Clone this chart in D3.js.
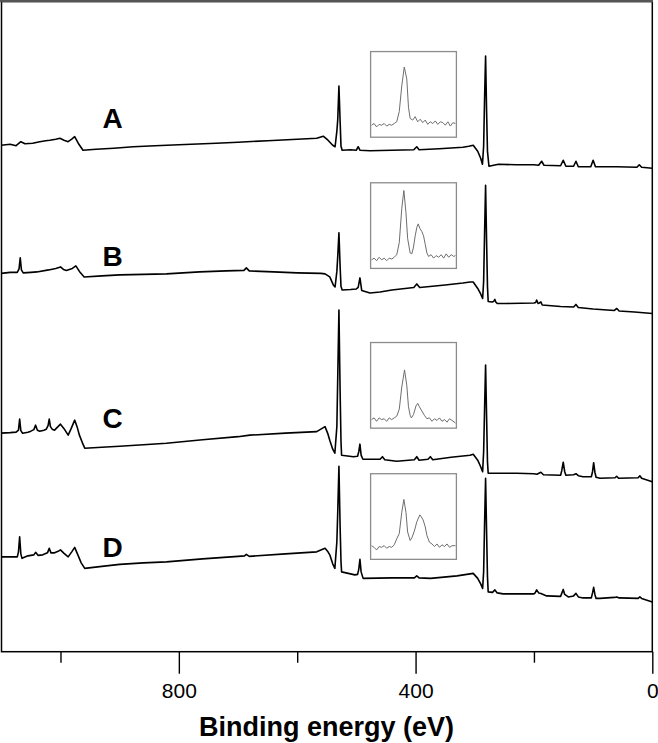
<!DOCTYPE html>
<html>
<head>
<meta charset="utf-8">
<script src="https://cdn.jsdelivr.net/npm/d3@7"></script>
<style>
  body { margin: 0; background: #fff; }
  text { font-family: "Liberation Sans", Arial, sans-serif; }
</style>
</head>
<body>
<div id="chart"></div>
<script>
// XPS survey spectra, [binding energy (eV), intensity (a.u., stacked)]
const spectrumA = [
  [1100,101.2],[1085,101.4],[1075,101.1],[1067,101.9],[1060,101.5],[1047,101.6],[1035,101.9],[1025,102.1],
  [1018,102.2],[1008,102.4],[1001,102.6],[994,102.2],[987,101.9],[981,102.4],[976,102.9],[970,101.6],
  [962,100.2],[940,100.4],[910,100.6],[877,100.9],[840,101.1],[800,101.3],[737,101.6],[700,101.8],
  [650,102.1],[600,102.4],[567,102.6],[556,103.0],[548,102.2],[540,101.2],[536,100.9],[533,104],
  [531.5,106.3],[529.5,113.0],[527.5,106],[526,101],[524,100.2],[510,100.3],[500,100.2],[497,100.9],
  [494,100.2],[477,100.1],[440,100.2],[403,100.3],[398,100.9],[394,100.3],[360,100.5],[320,100.8],
  [310,101.0],[302.6,101.2],[295,100],[290,98.6],[287,97.4],[285,101],[283.5,110],[281.7,119.0],
  [280,108],[278.5,100],[276,97.0],[260,97.4],[230,97.3],[200,97.3],[192,97.2],[187,98.0],[183,97.2],
  [155,97.1],[150.5,98.2],[146,97.0],[133,97.0],[129,98.0],[125,96.9],[104,96.9],[100,98.2],[96,96.9],
  [60,96.9],[26,96.8],[22,97.3],[18,96.8],[0,96.6]
];
const spectrumB = [
  [1100,75.6],[1085,75.8],[1073,75.8],[1070,76.5],[1068,78.7],[1066,76.3],[1063,75.7],[1050,75.8],
  [1040,75.9],[1020,76.3],[1008,76.6],[1000,76.9],[995,76.4],[990,76.2],[980,76.6],[974,77.1],
  [968,76.0],[960,74.9],[930,75.1],[900,75.3],[860,75.4],[821,75.5],[765,75.9],[720,76.1],[690,76.2],
  [686,76.7],[681,76.1],[640,75.9],[600,75.7],[560,75.6],[553,75.5],[545,74.9],[539,73.3],[536,72.9],
  [533,76],[531.5,79],[529.5,83.7],[527.5,77],[526,73],[524,72.3],[510,72.4],[500,72.5],[497,72.8],
  [494,74.7],[491,72.2],[477,71.7],[460,71.9],[440,72.3],[403,72.8],[398,73.5],[393,72.8],[350,73.3],
  [320,73.7],[308,73.9],[302.6,73.9],[295,72.6],[290,71.5],[286.7,70.6],[285,74],[283.5,83],
  [281.7,93.2],[280,82],[278.5,73],[277.3,70.0],[271,69.9],[268,70.0],[266,70.4],[264,69.8],[262,69.6],
  [246,69.6],[200,69.7],[197,69.8],[195.4,70.3],[193,69.6],[191,69.7],[188.2,69.9],[186,69.3],
  [155,69.0],[133,68.9],[129,69.4],[125,68.8],[100,68.5],[64,68.2],[60,68.6],[56,68.1],[30,67.9],[0,67.6]
];
const spectrumC = [
  [1100,43.7],[1085,43.8],[1075,43.9],[1071,44.3],[1069,46.5],[1067,44.2],[1064,43.7],[1055,43.9],
  [1050,44.1],[1045,44.4],[1042,45.3],[1039,44.3],[1035,44.1],[1028,44.3],[1024,44.5],[1021,45.2],
  [1019,46.5],[1017,45.0],[1014,44.5],[1010,44.3],[1005,44.9],[1000,45.5],[994,44.6],[987,43.3],
  [982,44.6],[976,46.3],[972,45.0],[968,43.3],[962,41.5],[959,40.7],[930,40.9],[900,41.1],[860,41.4],
  [821,41.7],[760,42.4],[700,43.0],[680,43.3],[620,43.7],[567,44.0],[553,45.0],[548,43.5],[545,42.3],
  [540,40.5],[536.4,39.7],[533,45],[531.5,55],[529.5,68.3],[527.5,52],[526,42],[525,39.3],[505,39.0],
  [498,39.1],[496,40],[494,41.5],[492,39.3],[489,38.5],[460,38.5],[456,39.0],[452,38.4],[432,38.1],
  [402,38.4],[398,39.0],[394,38.3],[379,38.5],[375,39.0],[371,38.4],[340,38.9],[308,39.3],[302.6,39.5],
  [295,38.3],[290,37.0],[286.7,36.0],[285,40],[283.5,48],[281.7,57.3],[280,47],[278.5,38],[277.3,35.7],
  [260,35.7],[229,35.7],[200,35.6],[195,35.5],[188.2,35.9],[184,35.4],[155,35.3],[153,36.2],
  [150.5,37.9],[148,36.0],[146,35.3],[133,35.4],[129,35.6],[125,35.2],[117,35.0],[103,35.0],[101,36.0],
  [99.1,37.8],[97,35.9],[95,34.9],[88.4,34.7],[63,34.8],[60.2,35.1],[57,34.7],[24,34.8],[21,35.2],
  [18,34.7],[0,34.0]
];
const spectrumD = [
  [1100,19.0],[1085,19.0],[1073,19.0],[1071,20.0],[1069,23.0],[1067,19.6],[1065,18.7],[1055,19.2],
  [1045,19.4],[1042,19.9],[1038,19.3],[1030,19.4],[1022,19.8],[1019,20.7],[1016,19.8],[1010,19.8],
  [1004,20.1],[1000,20.4],[994,19.7],[987,19.0],[981,20.0],[976,20.9],[971,19.5],[965,17.8],[959,16.7],
  [930,17.1],[900,17.5],[860,17.8],[821,18.0],[760,18.6],[700,19.1],[689,19.2],[686,19.5],[681,19.1],
  [620,19.6],[567,20.0],[553,20.7],[548,20.0],[545,19.4],[540,17.6],[536.4,16.7],[533,22],[531.5,28],
  [529.5,37.1],[527.5,25],[526,18],[525,16.0],[510,15.6],[502.6,15.4],[498,15.5],[496,16.5],[494,18.5],
  [492,16.0],[488.6,14.7],[440,14.8],[402,14.8],[398,15.2],[394,14.8],[374.6,14.7],[330,15.2],
  [308,15.6],[302.6,15.7],[295,14.7],[290,13.6],[286.7,12.7],[285,16],[283.5,25],[281.7,34.7],[280,24],
  [278.5,15],[277.3,12.0],[270,11.9],[266,12.4],[262,11.8],[252,11.6],[200,11.6],[198,11.8],
  [195.4,12.4],[192,11.8],[188.2,11.7],[178.5,11.2],[155,11.1],[153,11.7],[150.5,12.5],[148,11.5],
  [142,11.0],[133,11.2],[129,11.7],[125,11.0],[117,10.8],[103,10.8],[101,11.8],[99.1,12.9],[97,11.5],
  [95,10.7],[88.4,10.7],[64,10.9],[60,11.0],[56,10.8],[24,10.7],[21,11.0],[18,10.7],[0,10.0]
];

// high-resolution insets, [relative energy (0-100), relative intensity (0-100)]
const insetA = [
  [0,14],[3,16],[6,12],[9,15],[12,14],[15,16],[18,13],[21,15],[24,14],[27,16],[30,18],[33,30],[36,60],
  [39,82],[42,68],[44,35],[46,22],[49,20],[52,24],[55,18],[58,21],[61,17],[64,20],[67,15],[70,18],
  [73,16],[76,19],[79,15],[82,18],[85,17],[88,14],[91,18],[94,13],[97,17],[100,16]
];
const insetB = [
  [0,10],[3,12],[6,9],[9,13],[12,10],[15,12],[18,9],[21,12],[24,11],[27,13],[30,16],[33,30],[36,70],
  [38.5,91],[41,65],[43,35],[46,18],[48,17],[50,25],[52,38],[54,48],[55.6,52],[57.5,47],[60,43],
  [62,38],[64,28],[66,18],[68,14],[71,16],[74,12],[77,15],[80,13],[83,16],[86,12],[89,17],[92,13],
  [95,16],[98,14],[100,15]
];
const insetC = [
  [0,10],[3,12],[6,8],[9,12],[12,10],[15,11],[18,8],[21,12],[24,10],[27,12],[30,14],[33,22],[36,48],
  [39.3,68],[42,50],[44,25],[46,15],[47.5,12],[50,16],[53,26],[55,29],[57,25],[60,20],[63,15],[66,11],
  [69,12],[72,8],[75,11],[78,9],[81,12],[84,8],[87,10],[90,7],[93,11],[96,9],[100,6]
];
const insetD = [
  [0,16],[3,14],[6,11],[9,15],[12,14],[15,16],[18,13],[21,15],[24,14],[27,17],[30,24],[33,30],[36,55],
  [38.5,70],[41,55],[43,32],[46,22],[48,25],[51,33],[54,44],[57.6,52],[59,50],[61.5,46],[64,38],
  [66,28],[69,20],[72,18],[75,15],[78,18],[81,14],[84,17],[87,15],[90,18],[93,14],[96,16],[100,16]
];

const sampleLabels = ["A", "B", "C", "D"];
const spectra = [spectrumA, spectrumB, spectrumC, spectrumD];
const insets = [insetA, insetB, insetC, insetD];
const majorTicks = [800, 400, 0];
const minorTicks = [1000, 600, 200];

// label anchors (energy, intensity) and inset tops (intensity) per sample
const labelAt = [[912, 104.6], [912, 77.1], [912, 44.7], [912, 19.0]];
const insetTop = [119.9, 93.7, 61.8, 35.6];
const insetSpan = [476, 331];   // energy range covered by the inset boxes
const insetHeight = 17.1;       // in intensity units

const width = 658, height = 743;

const svg = d3.select("#chart")
  .append("svg")
  .attr("width", width)
  .attr("height", height);

const x = d3.scaleLinear().domain([1100, 0]).range([1.3, 652.3]);
const y = d3.scaleLinear().domain([0, 130]).range([652, 1]);

// frame
svg.append("rect")
  .attr("x", 1.5).attr("y", 1.5)
  .attr("width", 650.8).attr("height", 650.2)
  .attr("fill", "none")
  .attr("stroke", "#000")
  .attr("stroke-width", 1.5);
svg.append("line")
  .attr("x1", 0).attr("x2", 653).attr("y1", 1).attr("y2", 1)
  .attr("stroke", "#555").attr("stroke-width", 2.5);

// axes
const axisG = svg.append("g").attr("transform", "translate(0,651.7)");
axisG.call(d3.axisBottom(x).tickValues(majorTicks).tickSize(22).tickPadding(9.3).tickFormat(d3.format("d")))
  .call(g => g.select(".domain").remove());
axisG.append("g")
  .call(d3.axisBottom(x).tickValues(minorTicks).tickSize(11).tickFormat(""))
  .call(g => g.select(".domain").remove());
axisG.selectAll(".tick line").attr("stroke", "#000").attr("stroke-width", 1.4);
axisG.selectAll(".tick text")
  .attr("fill", "#000")
  .style("font-size", "21px")
  .style("font-family", "'Liberation Sans', Arial, sans-serif");

svg.append("text")
  .attr("x", 326.5)
  .attr("y", 736)
  .attr("text-anchor", "middle")
  .style("font-size", "27px")
  .style("font-weight", "bold")
  .text("Binding energy (eV)");

// spectra
const line = d3.line()
  .x(d => x(d[0]))
  .y(d => y(d[1]));

svg.selectAll("path.spectrum")
  .data(spectra)
  .enter()
  .append("path")
  .attr("class", "spectrum")
  .attr("fill", "none")
  .attr("stroke", "#000")
  .attr("stroke-width", 1.6)
  .attr("stroke-linejoin", "round")
  .attr("d", line);

// sample labels
svg.selectAll("text.sample")
  .data(sampleLabels)
  .enter()
  .append("text")
  .attr("class", "sample")
  .attr("x", (d, i) => x(labelAt[i][0]))
  .attr("y", (d, i) => y(labelAt[i][1]))
  .attr("text-anchor", "middle")
  .style("font-size", "28px")
  .style("font-weight", "bold")
  .text(d => d);

// insets
insets.forEach((data, i) => {
  const x0 = x(insetSpan[0]), x1 = x(insetSpan[1]);
  const y0 = y(insetTop[i]), y1 = y(insetTop[i] - insetHeight);
  const g = svg.append("g");
  g.append("rect")
    .attr("x", x0).attr("y", y0)
    .attr("width", x1 - x0).attr("height", y1 - y0)
    .attr("fill", "#fff")
    .attr("stroke", "#8c8c8c")
    .attr("stroke-width", 1.3);
  const ix = d3.scaleLinear().domain([0, 100]).range([x0 + 1, x1 - 1]);
  const iy = d3.scaleLinear().domain([0, 100]).range([y1, y0]);
  g.append("path")
    .datum(data)
    .attr("fill", "none")
    .attr("stroke", "#6e6e6e")
    .attr("stroke-width", 1)
    .attr("d", d3.line().x(d => ix(d[0])).y(d => iy(d[1])));
});
</script>
</body>
</html>
